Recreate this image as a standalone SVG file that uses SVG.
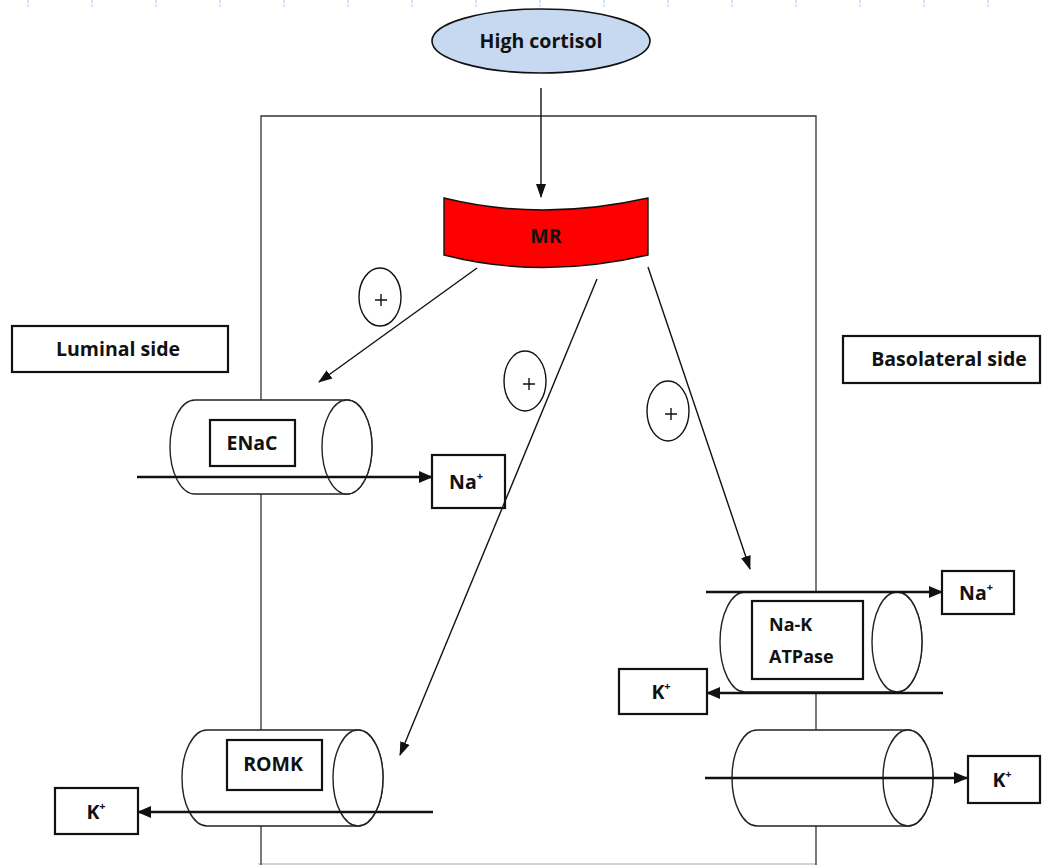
<svg xmlns="http://www.w3.org/2000/svg" width="1043" height="865" viewBox="0 0 1043 865">
<style>
text{font-family:"Open Sans",Lato,"Liberation Sans",sans-serif;font-weight:bold;fill:#111;}
.lbl{font-size:19.5px;text-anchor:middle;}
.box{fill:#fff;stroke:#111;stroke-width:2.2;}
.cyl{fill:#fff;stroke:#222;stroke-width:1.4;}
.thin{stroke:#111;stroke-width:1.4;fill:none;}
.thick{stroke:#111;stroke-width:2.6;fill:none;}
.plus{fill:#fff;stroke:#111;stroke-width:1.4;}
.tick{stroke:#bfc9f2;stroke-width:1.2;stroke-dasharray:3,1.5;}
</style>
<defs>
<marker id="ah" markerUnits="userSpaceOnUse" markerWidth="14" markerHeight="12" refX="13" refY="6" orient="auto">
<path d="M0,0 L14,6 L0,12 Z" fill="#111"/>
</marker>
<marker id="ahs" markerUnits="userSpaceOnUse" markerWidth="14" markerHeight="12" refX="13" refY="6" orient="auto">
<path d="M0,1 L14,6 L0,11 Z" fill="#111"/>
</marker>
</defs>
<rect width="1043" height="865" fill="#fff"/>
<g id="ticks">
<line class="tick" x1="28" y1="0" x2="28" y2="7"/><line class="tick" x1="92" y1="0" x2="92" y2="7"/><line class="tick" x1="156" y1="0" x2="156" y2="7"/><line class="tick" x1="220" y1="0" x2="220" y2="7"/><line class="tick" x1="284" y1="0" x2="284" y2="7"/><line class="tick" x1="348" y1="0" x2="348" y2="7"/><line class="tick" x1="412" y1="0" x2="412" y2="7"/><line class="tick" x1="476" y1="0" x2="476" y2="7"/><line class="tick" x1="540" y1="0" x2="540" y2="7"/><line class="tick" x1="604" y1="0" x2="604" y2="7"/><line class="tick" x1="668" y1="0" x2="668" y2="7"/><line class="tick" x1="732" y1="0" x2="732" y2="7"/><line class="tick" x1="796" y1="0" x2="796" y2="7"/><line class="tick" x1="860" y1="0" x2="860" y2="7"/><line class="tick" x1="924" y1="0" x2="924" y2="7"/><line class="tick" x1="988" y1="0" x2="988" y2="7"/>
</g>
<g id="cell">
<line x1="258" y1="864" x2="816" y2="864" stroke="#aaa" stroke-width="1.2"/>
<path d="M261,865 V116 H816 V865" fill="none" stroke="#333" stroke-width="1.3"/>
</g>
<g id="high-cortisol">
<ellipse cx="541" cy="41" rx="109" ry="32" fill="#c6d9f1" stroke="#111" stroke-width="1.6"/>
<text class="lbl" x="541" y="48" font-size="20">High cortisol</text>
</g>
<g id="mr">
<path d="M444,198 Q541,222 648,198 L648,255 Q541,280 444,255 Z" fill="#ff0000" stroke="#111" stroke-width="1.4"/>
<text class="lbl" x="546" y="243" font-size="17">MR</text>
</g>
<g id="luminal-side">
<rect class="box" x="12" y="326" width="216" height="46"/>
<text class="lbl" x="118" y="356">Luminal side</text>
</g>
<g id="basolateral-side">
<rect class="box" x="843" y="336" width="197" height="47"/>
<text class="lbl" x="949" y="366">Basolateral side</text>
</g>
<g id="enac">
<path class="cyl" d="M195,400 L347,400 A25,47 0 0 1 347,494 L195,494 A25,47 0 0 1 195,400 Z"/>
<ellipse class="cyl" cx="347" cy="447" rx="25" ry="47"/>
<rect class="box" x="210" y="420" width="85" height="46"/>
<text class="lbl" x="252" y="450" font-size="16">ENaC</text>
</g>
<g id="romk">
<path class="cyl" d="M207,730 L358,730 A25,48 0 0 1 358,826 L207,826 A25,48 0 0 1 207,730 Z"/>
<ellipse class="cyl" cx="358" cy="778" rx="25" ry="48"/>
<rect class="box" x="227" y="740" width="95" height="50"/>
<text class="lbl" x="273" y="771" font-size="16.5">ROMK</text>
</g>
<g id="na-k-atpase">
<path class="cyl" d="M745,592 L897,592 A25,50 0 0 1 897,692 L745,692 A25,50 0 0 1 745,592 Z"/>
<ellipse class="cyl" cx="897" cy="642" rx="25" ry="50"/>
<rect class="box" x="752" y="601" width="111" height="78"/>
<text x="769" y="631" font-size="18">Na-K</text>
<text x="769" y="663" font-size="18">ATPase</text>
</g>
<g id="k-channel-basolateral">
<path class="cyl" d="M757,730 L908,730 A25,48 0 0 1 908,826 L757,826 A25,48 0 0 1 757,730 Z"/>
<ellipse class="cyl" cx="908" cy="778" rx="25" ry="48"/>
</g>
<g id="na-lumen">
<rect class="box" x="432" y="455" width="73" height="53"/>
<text class="lbl" x="466" y="489">Na<tspan font-size="11" dy="-9">+</tspan></text>
</g>
<g id="k-lumen">
<rect class="box" x="55" y="788" width="83" height="46"/>
<text class="lbl" x="96" y="819">K<tspan font-size="11" dy="-9">+</tspan></text>
</g>
<g id="na-baso">
<rect class="box" x="942" y="571" width="72" height="43"/>
<text class="lbl" x="976" y="600">Na<tspan font-size="11" dy="-9">+</tspan></text>
</g>
<g id="k-baso-in">
<rect class="box" x="619" y="669" width="88" height="45"/>
<text class="lbl" x="661" y="699">K<tspan font-size="11" dy="-9">+</tspan></text>
</g>
<g id="k-baso-out">
<rect class="box" x="968" y="756" width="72" height="47"/>
<text class="lbl" x="1002" y="787">K<tspan font-size="11" dy="-9">+</tspan></text>
</g>
<g id="plus-signs">
<ellipse class="plus" cx="380" cy="297" rx="21" ry="29"/>
<path class="thin" d="M375,300 h12 M381,294 v12"/>
<ellipse class="plus" cx="525" cy="381" rx="21" ry="30"/>
<path class="thin" d="M523,384 h12 M529,378 v12"/>
<ellipse class="plus" cx="668" cy="411" rx="21" ry="30"/>
<path class="thin" d="M665,414 h12 M671,408 v12"/>
</g>
<g id="connectors">
<line class="thin" x1="541" y1="88" x2="541" y2="197" marker-end="url(#ahs)"/>
<line class="thin" x1="477" y1="268" x2="319" y2="382" marker-end="url(#ahs)"/>
<line class="thin" x1="597" y1="279" x2="400" y2="755" marker-end="url(#ahs)"/>
<line class="thin" x1="648" y1="267" x2="750" y2="569" marker-end="url(#ahs)"/>
<line class="thick" x1="137" y1="477" x2="432" y2="477" marker-end="url(#ah)"/>
<line class="thick" x1="433" y1="812" x2="138" y2="812" marker-end="url(#ah)"/>
<line class="thick" x1="706" y1="592" x2="942" y2="592" marker-end="url(#ah)"/>
<line class="thick" x1="943" y1="693" x2="707" y2="693" marker-end="url(#ah)"/>
<line class="thick" x1="705" y1="778" x2="967" y2="778" marker-end="url(#ah)"/>
</g>
</svg>
